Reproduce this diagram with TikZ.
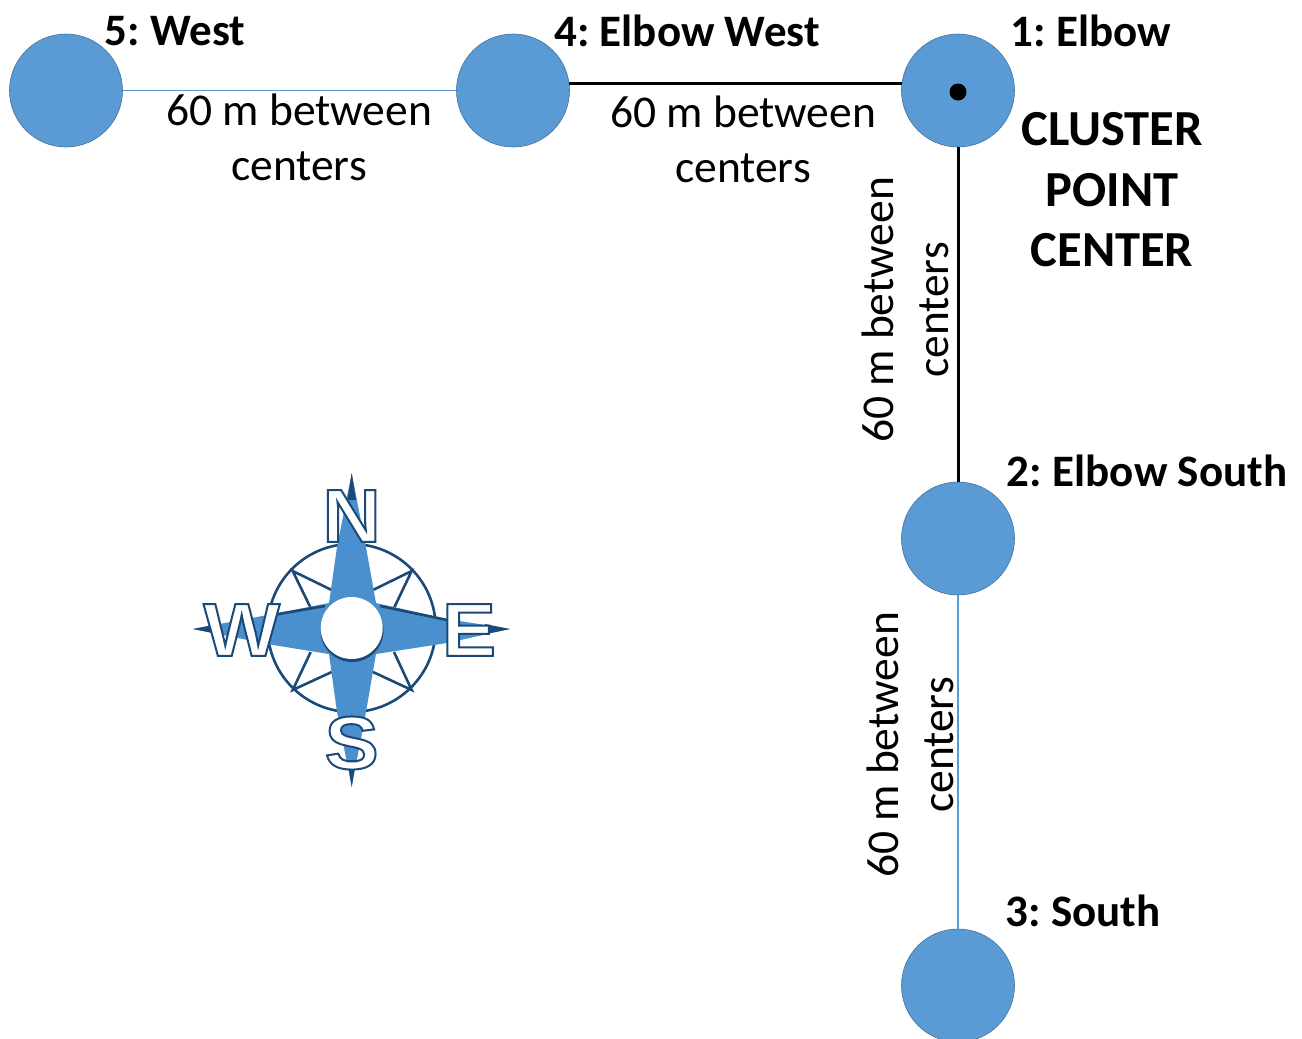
\documentclass[tikz,border=0pt]{standalone}
\usepackage{fontspec}
\setmainfont{Carlito}
\newfontfamily\compassfont[FakeStretch=1.08]{Liberation Sans}
\definecolor{plotblue}{HTML}{5B9BD5}
\definecolor{plotedge}{HTML}{41719C}
\definecolor{roseblue}{HTML}{4A90CF}
\definecolor{rosedark}{HTML}{1B4A78}
\newcommand{\roseletter}[1]{\special{pdf:code 2 Tr 2 w 0.106 0.29 0.47 RG 1 1 1 rg}#1\special{pdf:code 0 Tr 1 w}}
\tikzset{
  plot/.style={circle,draw=plotedge,fill=plotblue,line width=0.6pt,minimum size=113pt,inner sep=0pt},
  sitelabel/.style={font=\fontsize{45}{50}\selectfont\bfseries,inner sep=0pt},
  distlabel/.style={font=\fontsize{45.5}{55}\selectfont,align=center,inner sep=0pt},
  rosetxt/.style={font=\fontsize{75}{75}\selectfont\compassfont\bfseries,text=white,inner sep=0pt},
  roseline/.style={rosedark,line width=2.6pt}
}
\begin{document}
\begin{tikzpicture}[x=1pt,y=-1pt,thick]
\useasboundingbox (0,0) rectangle (1302,1039);
\node[plot] (v5) at (66,90.5) {};
\node[plot] (v4) at (513,90.5) {};
\node[plot] (v1) at (958,90.5) {};
\node[plot] (v2) at (958,538.5) {};
\node[plot] (v3) at (958,985.5) {};
\node[circle,fill=black,minimum size=17pt,inner sep=0pt] (v0) at (958,92) {};
\draw[plotblue,line width=1.2pt] (v5) -- (v4);
\draw[black,line width=3pt] (v4.7) -- (v1.173);
\draw[black,line width=3pt] (v1) -- (v2);
\draw[plotblue,line width=1.2pt] (v2) -- (v3);
\node[sitelabel] (l5) at (175,31) {5:\hspace{-3pt} West};
\node[sitelabel] (l4) at (687,31) {4:\hspace{-3pt} Elbow West};
\node[sitelabel] (l1) at (1091,31) {1:\hspace{-3pt} Elbow};
\node[sitelabel] (l2) at (1147,471) {2:\hspace{-3pt} Elbow South};
\node[sitelabel] (l3) at (1083,911) {3:\hspace{-3pt} South};
\node[distlabel] (d54) at (299,137.5) {60 m between\\centers};
\node[distlabel] (d41) at (743,139.5) {60 m between\\centers};
\node[distlabel,rotate=90] (d12) at (905,310) {60 m between\\centers};
\node[distlabel,rotate=90] (d23) at (910,745) {60 m between\\centers};
\node[font=\fontsize{50.5}{60.5}\selectfont\bfseries,align=center,inner sep=0pt] (cp) at (1112,190) {CLUSTER\\POINT\\CENTER};
% compass
\draw[roseline] (351.7,628) circle (84);
\draw[roseline] (331.7,590) -- (292.7,571) -- (310.7,608);
\draw[roseline] (373,590) -- (411.7,571) -- (394,608);
\draw[roseline] (373,672) -- (411.7,690) -- (394,652);
\draw[roseline] (331.7,672) -- (292.7,690) -- (310.7,652);
\fill[roseblue] (351.7,473) -- (366,547) -- (376,603) -- (447,619) -- (510,629) -- (447,643) -- (376,654) -- (366,712) -- (351.7,787) -- (337,712) -- (329,654) -- (273,645) -- (193,629) -- (273,614) -- (329,603) -- (337,547) -- cycle;
\fill[rosedark] (351.7,473) -- (356,500) -- (347.5,500) -- cycle;
\fill[rosedark] (510,629) -- (485,624) -- (485,634) -- cycle;
\fill[rosedark] (351.7,787) -- (356,760) -- (347.5,760) -- cycle;
\fill[rosedark] (193,629) -- (218,624) -- (218,634) -- cycle;
\draw[roseline] (380,606) -- (447,620);
\draw[roseline] (273,615) -- (325,606);
\fill[rosedark] (352,630.5) circle (31.5);
\fill[white] (351.7,628) circle (31);
\node[rosetxt] (nn) at (351.7,516) {\roseletter{N}};
\node[rosetxt] (ne) at (469,630) {\roseletter{E}};
\node[rosetxt] (ns) at (351.7,743) {\roseletter{S}};
\node[rosetxt] (nw) at (241.7,630) {\roseletter{W}};
\end{tikzpicture}
\end{document}
